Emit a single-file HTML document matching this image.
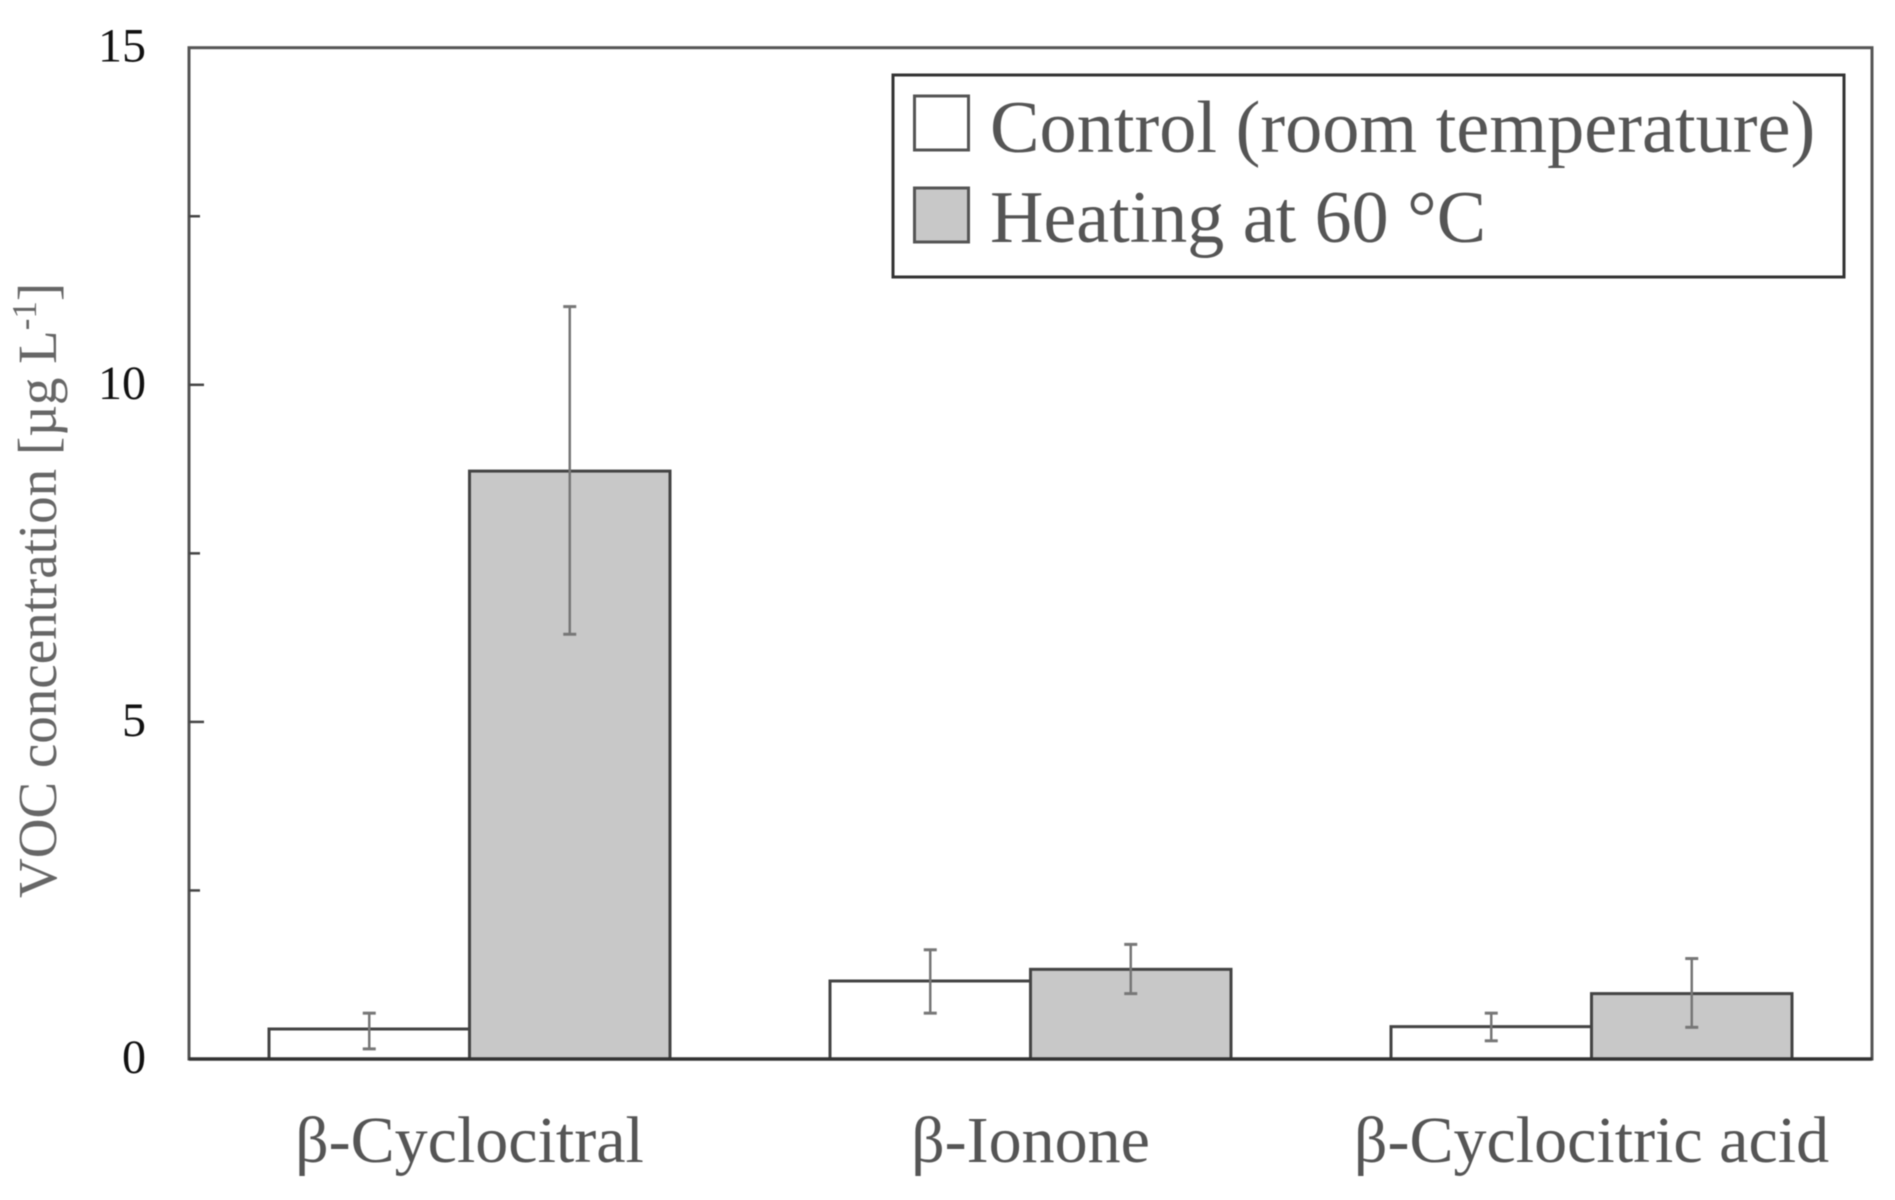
<!DOCTYPE html>
<html lang="en">
<head>
<meta charset="utf-8">
<title>VOC concentration chart</title>
<style>
html,body{margin:0;padding:0;background:#fff;width:1895px;height:1200px;overflow:hidden}
svg{display:block;filter:blur(.6px)}
text{font-family:"Liberation Serif","DejaVu Serif",serif}
</style>
</head>
<body>
<svg id="chart" xmlns="http://www.w3.org/2000/svg" width="1895" height="1200" viewBox="0 0 1895 1200">
  <rect x="0" y="0" width="1895" height="1200" fill="#fff"/>
  <g id="marks"></g>
  <rect x="189" y="47.7" width="1683" height="1011.3" fill="none" stroke="#555" stroke-width="3"/>
  <line x1="189" y1="1059" x2="1872" y2="1059" stroke="#333" stroke-width="3.5"/>
  <g id="axes"></g>
  <text transform="translate(56 898) rotate(-90)" font-size="55" fill="#666">VOC concentration [µg L<tspan font-size="35" dy="-20">-1</tspan><tspan dy="20">]</tspan></text>
  <g>
    <rect x="893" y="75" width="951" height="202" fill="#fff" stroke="#333" stroke-width="3"/>
    <rect x="914.5" y="96" width="54" height="54" fill="#fff" stroke="#555" stroke-width="3"/>
    <text x="990" y="152" font-size="74.3" fill="#555">Control (room temperature)</text>
    <rect x="914.5" y="188" width="54" height="54" fill="#c8c8c8" stroke="#555" stroke-width="3"/>
    <text x="990" y="242" font-size="74" fill="#555">Heating at 60 °C</text>
  </g>
</svg>
<script>
const categories = ["β-Cyclocitral", "β-Ionone", "β-Cyclocitric acid"];
const controlValues = [0.445, 1.157, 0.48];
const controlErrHigh = [0.68, 1.62, 0.68];
const controlErrLow = [0.15, 0.68, 0.27];
const heatingValues = [8.72, 1.33, 0.97];
const heatingErrHigh = [11.16, 1.70, 1.49];
const heatingErrLow = [6.30, 0.97, 0.47];
const yTicks = [0, 2.5, 5, 7.5, 10, 12.5, 15];
const yTickLabels = ["0", "", "5", "", "10", "", "15"];

const plotLeft = 189, plotRight = 1872, plotTop = 47.7, plotBottom = 1059, yMax = 15, barWidth = 200.5;
const NS = "http://www.w3.org/2000/svg";
const marks = document.getElementById("marks");
const axes = document.getElementById("axes");

function yScale(v) { return plotBottom - v * (plotBottom - plotTop) / yMax; }
function xCenter(i) { return plotLeft + (plotRight - plotLeft) / categories.length * (i + 0.5); }
function make(tag, parent, attrs) {
  const el = document.createElementNS(NS, tag);
  for (const k in attrs) el.setAttribute(k, attrs[k]);
  parent.appendChild(el);
  return el;
}

function drawBar(i, value, high, low, side, fill, key) {
  const cx = xCenter(i);
  const left = side < 0 ? cx - barWidth : cx;
  const bar = make("rect", marks, { x: left, y: yScale(value), width: barWidth, height: plotBottom - yScale(value), fill: fill, stroke: "#444", "stroke-width": 3 });
  
  
  const ex = left + barWidth / 2;
  const stem = make("line", marks, { x1: ex, x2: ex, y1: yScale(high), y2: yScale(low), stroke: "#777", "stroke-width": 2.5 });
  
  
  [high, low].forEach(function (v) {
    const cap = make("line", marks, { x1: ex - 6.5, x2: ex + 6.5, y1: yScale(v), y2: yScale(v), stroke: "#777", "stroke-width": 3 });
    
    
  });
}

categories.forEach(function (name, i) {
  drawBar(i, controlValues[i], controlErrHigh[i], controlErrLow[i], -1, "#fff", "control");
  drawBar(i, heatingValues[i], heatingErrHigh[i], heatingErrLow[i], 1, "#c8c8c8", "heating");
  const label = make("text", axes, { x: xCenter(i), y: 1162, "font-size": 66, fill: "#555", "text-anchor": "middle" });
  label.textContent = name;
  
  
});

yTicks.forEach(function (t, i) {
  if (t !== 0 && t !== yMax) {
    const len = yTickLabels[i] ? 15 : 11;
    const tick = make("line", axes, { x1: plotLeft, x2: plotLeft + len, y1: yScale(t), y2: yScale(t), stroke: "#444", "stroke-width": 2.5 });
    
    
  }
  if (yTickLabels[i]) {
    const tl = make("text", axes, { x: 146, y: yScale(t) + 14, "font-size": 48, fill: "#111", "text-anchor": "end" });
    tl.textContent = yTickLabels[i];
    
    
  }
});
</script>
</body>
</html>
